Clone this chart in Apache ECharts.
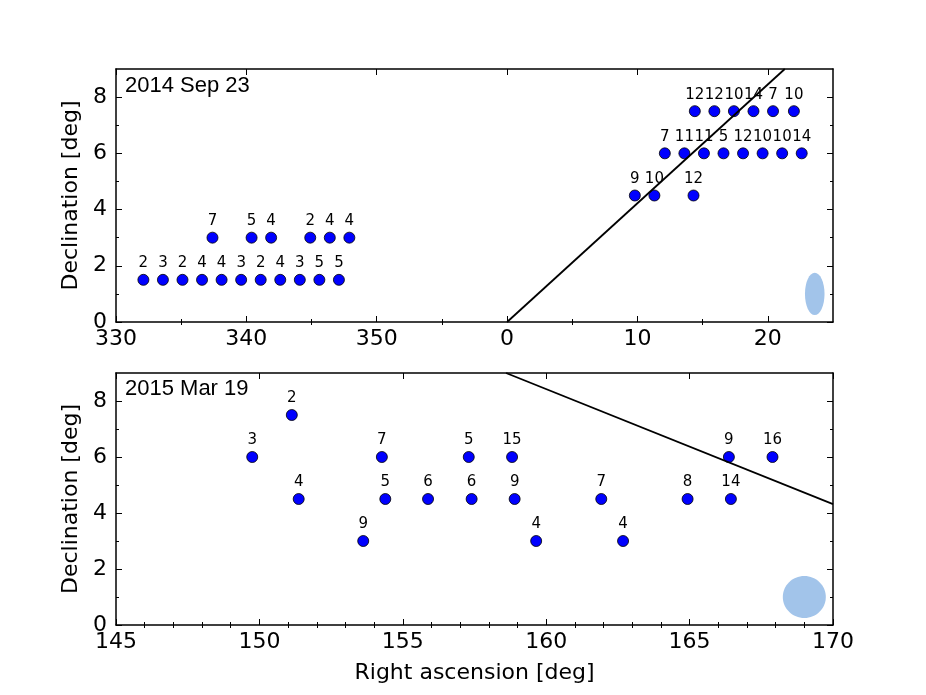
<!DOCTYPE html>
<html lang="en">
<head>
    <meta charset="UTF-8">
    <title>Pointings</title>
    <script src="https://cdn.jsdelivr.net/npm/echarts@6/dist/echarts.min.js"></script>
    <style>
        html, body { margin: 0; padding: 0; background: #fff; }
        #chart { width: 926px; height: 695px; }
    </style>
</head>
<body>
<div id="chart"></div>
<script>
    // 2014 Sep 23 (RA below 180 sits past 360 on the wrapped axis)
    var topRA = [332.1, 333.6, 335.1, 336.6, 338.1, 339.6, 341.1, 342.6, 344.1, 345.6, 347.1,
        337.4, 340.4, 341.9, 344.9, 346.4, 347.9,
        9.8, 11.3, 14.3,
        12.1, 13.6, 15.1, 16.6, 18.1, 19.6, 21.1, 22.6,
        14.4, 15.9, 17.4, 18.9, 20.4, 22.0];
    var topDec = [1.5, 1.5, 1.5, 1.5, 1.5, 1.5, 1.5, 1.5, 1.5, 1.5, 1.5,
        3, 3, 3, 3, 3, 3,
        4.5, 4.5, 4.5,
        6, 6, 6, 6, 6, 6, 6, 6,
        7.5, 7.5, 7.5, 7.5, 7.5, 7.5];
    var topN = [2, 3, 2, 4, 4, 3, 2, 4, 3, 5, 5,
        7, 5, 4, 2, 4, 4,
        9, 10, 12,
        7, 11, 11, 5, 12, 10, 10, 14,
        12, 12, 10, 14, 7, 10];

    // 2015 Mar 19
    var botRA = [149.75, 151.13, 151.37, 153.62, 154.27, 154.39, 155.88, 157.30, 157.40,
        158.81, 158.90, 159.65, 161.92, 162.68, 164.93, 166.37, 166.44, 167.89];
    var botDec = [6, 7.5, 4.5, 3, 6, 4.5, 4.5, 6, 4.5, 6, 4.5, 3, 4.5, 3, 4.5, 6, 4.5, 6];
    var botN = [3, 2, 4, 9, 7, 5, 6, 5, 6, 15, 9, 4, 7, 4, 8, 9, 14, 16];

    // ecliptic segments
    var topLineRA = [0, 21.3];
    var topLineDec = [0, 9];
    var botLineRA = [158.6, 170];
    var botLineDec = [9, 4.32];

    // beam (ra, dec, diameter in deg)
    var beamRA = [23.6, 169.0];
    var beamDec = [1.0, 1.0];
    var beamDiam = [1.5, 1.5];

    // ticks
    var topXMajor = [330, 340, 350, 360, 370, 380];
    var topXMinor = [335, 345, 355, 365, 375];
    var botXMajor = [145, 150, 155, 160, 165, 170];
    var botXMinor = [146, 147, 148, 149, 151, 152, 153, 154, 156, 157, 158, 159,
        161, 162, 163, 164, 166, 167, 168, 169];
    var yMajor = [0, 2, 4, 6, 8];
    var yMinor = [1, 3, 5, 7];

    var wrap = function (ra) { return ra < 180 ? ra + 360 : ra; };

    var tickFont = { fontFamily: 'DejaVu Sans', fontSize: 22, color: '#000' };
    var black = { color: '#000', width: 1.5 };

    function xAxes(g, min, max, major, minor, name) {
        var list = [];
        ['bottom', 'top'].forEach(function (pos) {
            list.push({
                type: 'value', gridIndex: g, position: pos, min: min, max: max,
                axisLine: { show: true, onZero: false, lineStyle: black },
                axisTick: { show: true, inside: true, length: 6, customValues: major, lineStyle: { color: '#000', width: 1 } },
                axisLabel: pos === 'bottom' ? {
                    show: true, customValues: major, margin: 6,
                    formatter: function (v) { return String(v % 360); },
                    fontFamily: tickFont.fontFamily, fontSize: tickFont.fontSize, color: '#000'
                } : { show: false },
                splitLine: { show: false },
                name: pos === 'bottom' ? name : '',
                nameLocation: 'middle', nameGap: 37,
                nameTextStyle: { fontFamily: 'DejaVu Sans', fontSize: 22, color: '#000' }
            });
            list.push({
                type: 'value', gridIndex: g + 1, position: pos, min: min, max: max,
                axisLine: { show: false },
                axisTick: { show: true, inside: true, length: 3, customValues: minor, lineStyle: { color: '#000', width: 1 } },
                axisLabel: { show: false },
                splitLine: { show: false }
            });
        });
        return list;
    }

    function yAxes(g) {
        var list = [];
        ['left', 'right'].forEach(function (pos) {
            list.push({
                type: 'value', gridIndex: g, position: pos, min: 0, max: 9,
                axisLine: { show: true, onZero: false, lineStyle: black },
                axisTick: { show: true, inside: true, length: 6, customValues: yMajor, lineStyle: { color: '#000', width: 1 } },
                axisLabel: pos === 'left' ? {
                    show: true, customValues: yMajor, margin: 9,
                    fontFamily: tickFont.fontFamily, fontSize: tickFont.fontSize, color: '#000'
                } : { show: false },
                splitLine: { show: false },
                name: pos === 'left' ? 'Declination [deg]' : '',
                nameLocation: 'middle', nameGap: 30,
                nameTextStyle: { fontFamily: 'DejaVu Sans', fontSize: 22, color: '#000' }
            });
            list.push({
                type: 'value', gridIndex: g + 1, position: pos, min: 0, max: 9,
                axisLine: { show: false },
                axisTick: { show: true, inside: true, length: 3, customValues: yMinor, lineStyle: { color: '#000', width: 1 } },
                axisLabel: { show: false },
                splitLine: { show: false }
            });
        });
        return list;
    }

    var topX = xAxes(0, 330, 385, topXMajor, topXMinor, '');
    var botX = xAxes(2, 145, 170, botXMajor, botXMinor, 'Right ascension [deg]');
    // axis indices: main bottom = 0 / 4
    var topY = yAxes(0);
    var botY = yAxes(2);

    var pointLabel = {
        show: true, position: 'top', distance: 3,
        formatter: function (p) { return p.value[2]; },
        fontFamily: 'DejaVu Sans', fontSize: 15, color: '#000', opacity: 1
    };

    function beamSeries(xi, yi, i, shift) {
        return {
            type: 'custom', xAxisIndex: xi, yAxisIndex: yi, z: 1,
            data: [[beamRA[i] + shift, beamDec[i], beamDiam[i]]],
            renderItem: function (params, api) {
                var c = api.coord([api.value(0), api.value(1)]);
                var s = api.size([api.value(2), api.value(2)]);
                return {
                    type: 'ellipse',
                    shape: { cx: c[0], cy: c[1], rx: s[0] / 2, ry: s[1] / 2 },
                    style: { fill: '#a2c4ea' }
                };
            }
        };
    }

    var dotStyle = { color: '#0000ff', borderColor: '#000', borderWidth: 0.8, opacity: 1 };

    var chart = echarts.init(document.getElementById('chart'));
    chart.setOption({
        animation: false,
        backgroundColor: '#fff',
        title: [
            { text: '2014 Sep 23', left: 125, top: 75, padding: 0,
              textStyle: { fontFamily: 'Liberation Sans', fontSize: 22, fontWeight: 'normal', color: '#000' } },
            { text: '2015 Mar 19', left: 125, top: 378, padding: 0,
              textStyle: { fontFamily: 'Liberation Sans', fontSize: 22, fontWeight: 'normal', color: '#000' } }
        ],
        grid: [
            { left: 116, top: 69, width: 717, height: 253, outerBoundsMode: 'none' },
            { left: 116, top: 69, width: 717, height: 253, outerBoundsMode: 'none' },
            { left: 116, top: 373, width: 717, height: 252, outerBoundsMode: 'none' },
            { left: 116, top: 373, width: 717, height: 252, outerBoundsMode: 'none' }
        ],
        xAxis: topX.concat(botX),
        yAxis: topY.concat(botY),
        series: [
            beamSeries(0, 0, 0, 360),
            beamSeries(4, 4, 1, 0),
            {
                type: 'scatter', xAxisIndex: 0, yAxisIndex: 0, z: 2,
                symbolSize: 11,
                itemStyle: dotStyle,
                label: pointLabel,
                data: topRA.map(function (ra, i) { return [wrap(ra), topDec[i], topN[i]]; })
            },
            {
                type: 'scatter', xAxisIndex: 4, yAxisIndex: 4, z: 2,
                symbolSize: 11,
                itemStyle: dotStyle,
                label: pointLabel,
                data: botRA.map(function (ra, i) { return [ra, botDec[i], botN[i]]; })
            },
            {
                type: 'line', xAxisIndex: 0, yAxisIndex: 0, z: 3,
                symbol: 'none', clip: true,
                lineStyle: { color: '#000', width: 1.8 },
                data: topLineRA.map(function (ra, i) { return [ra + 360, topLineDec[i]]; })
            },
            {
                type: 'line', xAxisIndex: 4, yAxisIndex: 4, z: 3,
                symbol: 'none', clip: true,
                lineStyle: { color: '#000', width: 1.8 },
                data: botLineRA.map(function (ra, i) { return [ra, botLineDec[i]]; })
            }
        ]
    });
</script>
</body>
</html>
